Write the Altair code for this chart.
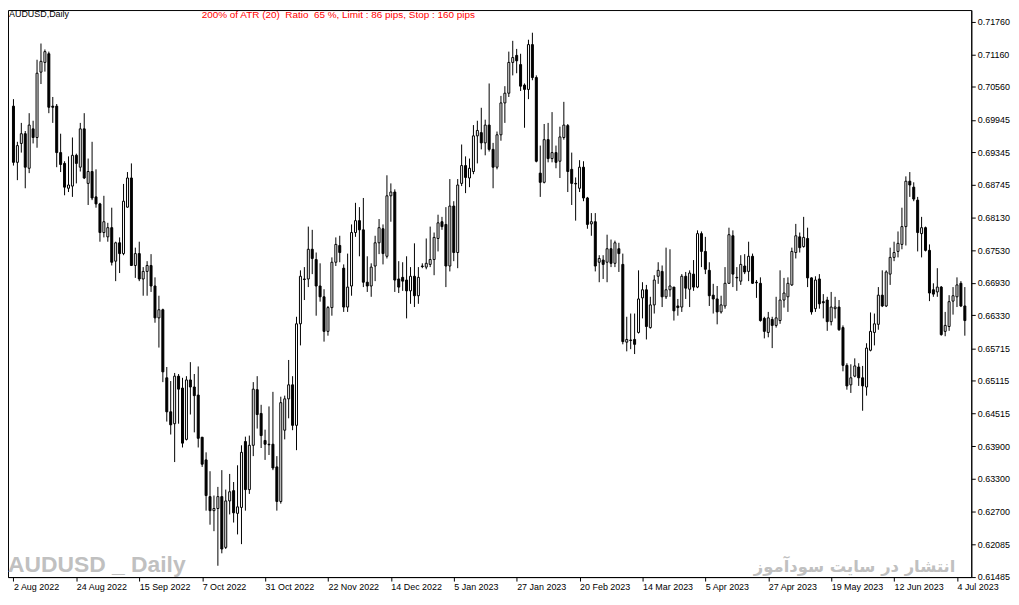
import altair as alt
import pandas as pd

# x-axis tick labels (every 16 trading days)
tick_labels = ["2 Aug 2022", "24 Aug 2022", "15 Sep 2022", "7 Oct 2022", "31 Oct 2022",
               "22 Nov 2022", "14 Dec 2022", "5 Jan 2023", "27 Jan 2023", "20 Feb 2023",
               "14 Mar 2023", "5 Apr 2023", "27 Apr 2023", "19 May 2023", "12 Jun 2023",
               "4 Jul 2023"]

y_ticks = [0.71760, 0.71160, 0.70560, 0.69945, 0.69345, 0.68745, 0.68130, 0.67530, 0.66930,
           0.66330, 0.65715, 0.65115, 0.64515, 0.63900, 0.63300, 0.62700, 0.62085, 0.61485]

open_ = [
    0.7020, 0.6916, 0.6951, 0.6969, 0.6905, 0.6978, 0.6962, 0.7083, 0.7101, 0.7117,
    0.7020, 0.7020, 0.6934, 0.6914, 0.6868, 0.6872, 0.6929, 0.6907, 0.6978, 0.6877,
    0.6899, 0.6852, 0.6839, 0.6786, 0.6778, 0.6795, 0.6733, 0.6767, 0.6747, 0.6833,
    0.6887, 0.6725, 0.6747, 0.6700, 0.6714, 0.6725, 0.6687, 0.6628, 0.6643, 0.6517,
    0.6454, 0.6432, 0.6520, 0.6498, 0.6403, 0.6513, 0.6500, 0.6485, 0.6407, 0.6365,
    0.6297, 0.6271, 0.6275, 0.6297, 0.6203, 0.6289, 0.6308, 0.6266, 0.6277, 0.6399,
    0.6310, 0.6392, 0.6495, 0.6451, 0.6401, 0.6394, 0.6394, 0.6352, 0.6288, 0.6420,
    0.6478, 0.6504, 0.6429, 0.6617, 0.6700, 0.6700, 0.6755, 0.6736, 0.6687, 0.6667,
    0.6603, 0.6647, 0.6731, 0.6762, 0.6720, 0.6648, 0.6687, 0.6786, 0.6808, 0.6791,
    0.6694, 0.6687, 0.6724, 0.6767, 0.6793, 0.6742, 0.6854, 0.6861, 0.6700, 0.6703,
    0.6698, 0.6678, 0.6705, 0.6669, 0.6724, 0.6722, 0.6727, 0.6736, 0.6775, 0.6806,
    0.6801, 0.6724, 0.6835, 0.6749, 0.6877, 0.6910, 0.6887, 0.6899, 0.6965, 0.6971,
    0.6952, 0.6985, 0.6940, 0.6907, 0.6967, 0.7026, 0.7044, 0.7101, 0.7114, 0.7097,
    0.7059, 0.7051, 0.7134, 0.7073, 0.6896, 0.6879, 0.6958, 0.6923, 0.6934, 0.6918,
    0.6962, 0.6984, 0.6903, 0.6877, 0.6868, 0.6907, 0.6850, 0.6802, 0.6806, 0.6731,
    0.6735, 0.6731, 0.6756, 0.6729, 0.6756, 0.6727, 0.6583, 0.6586, 0.6588, 0.6601,
    0.6665, 0.6680, 0.6610, 0.6652, 0.6705, 0.6714, 0.6667, 0.6680, 0.6685, 0.6650,
    0.6648, 0.6705, 0.6681, 0.6709, 0.6685, 0.6784, 0.6751, 0.6716, 0.6670, 0.6663,
    0.6639, 0.6650, 0.6692, 0.6780, 0.6703, 0.6696, 0.6724, 0.6714, 0.6742, 0.6694,
    0.6692, 0.6627, 0.6601, 0.6625, 0.6614, 0.6623, 0.6661, 0.6667, 0.6689, 0.6749,
    0.6778, 0.6760, 0.6775, 0.6702, 0.6645, 0.6700, 0.6658, 0.6661, 0.6621, 0.6645,
    0.6648, 0.6610, 0.6540, 0.6504, 0.6520, 0.6537, 0.6517, 0.6500, 0.6568, 0.6601,
    0.6616, 0.6670, 0.6650, 0.6709, 0.6740, 0.6751, 0.6764, 0.6797, 0.6881, 0.6870,
    0.6846, 0.6784, 0.6795, 0.6753, 0.6680, 0.6676, 0.6685, 0.6603, 0.6612, 0.6659,
    0.6667, 0.6692, 0.6650]

high_ = [
    0.7033, 0.6954, 0.6989, 0.6974, 0.7007, 0.6993, 0.7106, 0.7136, 0.7125, 0.7121,
    0.7037, 0.7024, 0.6969, 0.6918, 0.6927, 0.6962, 0.6932, 0.6989, 0.7007, 0.6923,
    0.6954, 0.6903, 0.6841, 0.6854, 0.6804, 0.6832, 0.6769, 0.6777, 0.6876, 0.6898,
    0.6914, 0.6758, 0.6769, 0.6722, 0.6733, 0.6746, 0.6703, 0.6669, 0.6645, 0.6537,
    0.6511, 0.6526, 0.6524, 0.6517, 0.6520, 0.6546, 0.6524, 0.6538, 0.6407, 0.6379,
    0.6344, 0.6299, 0.6315, 0.6346, 0.6310, 0.6339, 0.6324, 0.6355, 0.6392, 0.6408,
    0.6410, 0.6509, 0.6520, 0.6467, 0.6421, 0.6464, 0.6491, 0.6372, 0.6482, 0.6484,
    0.6550, 0.6520, 0.6630, 0.6716, 0.6722, 0.6797, 0.6791, 0.6749, 0.6729, 0.6681,
    0.6650, 0.6740, 0.6777, 0.6780, 0.6727, 0.6747, 0.6801, 0.6841, 0.6833, 0.6850,
    0.6742, 0.6729, 0.6780, 0.6811, 0.6801, 0.6892, 0.6877, 0.6866, 0.6733, 0.6731,
    0.6742, 0.6722, 0.6766, 0.6722, 0.6729, 0.6775, 0.6797, 0.6786, 0.6819, 0.6815,
    0.6833, 0.6885, 0.6844, 0.6885, 0.6949, 0.6927, 0.6923, 0.6985, 0.6993, 0.7017,
    0.6995, 0.7062, 0.6952, 0.6973, 0.7039, 0.7057, 0.7121, 0.7141, 0.7126, 0.7117,
    0.7062, 0.7143, 0.7156, 0.7077, 0.6947, 0.6987, 0.6989, 0.7009, 0.6947, 0.6982,
    0.7028, 0.6987, 0.6934, 0.6888, 0.6920, 0.6918, 0.6852, 0.6822, 0.6822, 0.6744,
    0.6744, 0.6782, 0.6773, 0.6771, 0.6767, 0.6747, 0.6630, 0.6636, 0.6636, 0.6716,
    0.6694, 0.6689, 0.6667, 0.6707, 0.6731, 0.6725, 0.6758, 0.6755, 0.6685, 0.6663,
    0.6709, 0.6713, 0.6716, 0.6735, 0.6790, 0.6788, 0.6778, 0.6731, 0.6691, 0.6687,
    0.6669, 0.6722, 0.6795, 0.6790, 0.6722, 0.6744, 0.6746, 0.6769, 0.6747, 0.6698,
    0.6703, 0.6630, 0.6639, 0.6630, 0.6667, 0.6716, 0.6702, 0.6703, 0.6758, 0.6802,
    0.6786, 0.6815, 0.6795, 0.6703, 0.6705, 0.6709, 0.6672, 0.6667, 0.6676, 0.6667,
    0.6661, 0.6614, 0.6544, 0.6542, 0.6553, 0.6544, 0.6539, 0.6581, 0.6638, 0.6636,
    0.6685, 0.6716, 0.6716, 0.6758, 0.6769, 0.6788, 0.6832, 0.6890, 0.6898, 0.6879,
    0.6852, 0.6815, 0.6797, 0.6764, 0.6692, 0.6720, 0.6687, 0.6639, 0.6670, 0.6685,
    0.6703, 0.6696, 0.6685]

low_ = [
    0.6910, 0.6883, 0.6934, 0.6868, 0.6896, 0.6951, 0.6943, 0.7061, 0.7084, 0.7007,
    0.6989, 0.6907, 0.6898, 0.6855, 0.6861, 0.6852, 0.6877, 0.6899, 0.6885, 0.6837,
    0.6846, 0.6832, 0.6769, 0.6777, 0.6769, 0.6725, 0.6696, 0.6711, 0.6744, 0.6832,
    0.6724, 0.6702, 0.6696, 0.6669, 0.6669, 0.6676, 0.6619, 0.6573, 0.6509, 0.6436,
    0.6412, 0.6361, 0.6432, 0.6388, 0.6401, 0.6449, 0.6416, 0.6388, 0.6352, 0.6271,
    0.6245, 0.6233, 0.6169, 0.6192, 0.6200, 0.6264, 0.6249, 0.6227, 0.6209, 0.6271,
    0.6302, 0.6372, 0.6423, 0.6387, 0.6365, 0.6374, 0.6346, 0.6271, 0.6284, 0.6403,
    0.6442, 0.6420, 0.6383, 0.6577, 0.6661, 0.6685, 0.6709, 0.6632, 0.6658, 0.6584,
    0.6595, 0.6632, 0.6724, 0.6731, 0.6639, 0.6639, 0.6669, 0.6778, 0.6742, 0.6685,
    0.6676, 0.6667, 0.6696, 0.6746, 0.6727, 0.6738, 0.6806, 0.6676, 0.6674, 0.6678,
    0.6627, 0.6654, 0.6648, 0.6654, 0.6720, 0.6718, 0.6722, 0.6707, 0.6751, 0.6791,
    0.6685, 0.6714, 0.6733, 0.6720, 0.6872, 0.6859, 0.6870, 0.6894, 0.6914, 0.6940,
    0.6929, 0.6936, 0.6868, 0.6903, 0.6956, 0.6989, 0.7037, 0.7077, 0.7081, 0.7048,
    0.6980, 0.7033, 0.7068, 0.6916, 0.6852, 0.6877, 0.6916, 0.6916, 0.6905, 0.6887,
    0.6958, 0.6861, 0.6837, 0.6808, 0.6861, 0.6844, 0.6793, 0.6780, 0.6714, 0.6694,
    0.6700, 0.6694, 0.6722, 0.6722, 0.6713, 0.6579, 0.6566, 0.6570, 0.6561, 0.6599,
    0.6627, 0.6588, 0.6608, 0.6636, 0.6691, 0.6648, 0.6663, 0.6667, 0.6623, 0.6632,
    0.6639, 0.6663, 0.6648, 0.6678, 0.6683, 0.6722, 0.6709, 0.6650, 0.6636, 0.6616,
    0.6636, 0.6645, 0.6691, 0.6685, 0.6678, 0.6689, 0.6709, 0.6696, 0.6691, 0.6665,
    0.6621, 0.6590, 0.6592, 0.6572, 0.6610, 0.6617, 0.6647, 0.6639, 0.6687, 0.6738,
    0.6749, 0.6758, 0.6685, 0.6634, 0.6639, 0.6645, 0.6627, 0.6604, 0.6614, 0.6627,
    0.6604, 0.6529, 0.6495, 0.6489, 0.6518, 0.6502, 0.6456, 0.6484, 0.6566, 0.6577,
    0.6606, 0.6648, 0.6648, 0.6689, 0.6733, 0.6740, 0.6755, 0.6762, 0.6852, 0.6844,
    0.6751, 0.6740, 0.6751, 0.6659, 0.6667, 0.6667, 0.6595, 0.6594, 0.6604, 0.6634,
    0.6648, 0.6648, 0.6595]

close_ = [
    0.6916, 0.6947, 0.6969, 0.6907, 0.6985, 0.6962, 0.7081, 0.7103, 0.7121, 0.7018,
    0.7018, 0.6934, 0.6912, 0.6870, 0.6874, 0.6929, 0.6914, 0.6978, 0.6887, 0.6899,
    0.6850, 0.6839, 0.6786, 0.6806, 0.6795, 0.6731, 0.6767, 0.6747, 0.6844, 0.6887,
    0.6725, 0.6747, 0.6700, 0.6714, 0.6725, 0.6687, 0.6628, 0.6643, 0.6528, 0.6454,
    0.6430, 0.6520, 0.6496, 0.6396, 0.6513, 0.6500, 0.6484, 0.6405, 0.6357, 0.6299,
    0.6271, 0.6275, 0.6297, 0.6200, 0.6289, 0.6306, 0.6267, 0.6278, 0.6379, 0.6310,
    0.6392, 0.6496, 0.6449, 0.6410, 0.6394, 0.6393, 0.6350, 0.6288, 0.6471, 0.6478,
    0.6504, 0.6429, 0.6617, 0.6705, 0.6699, 0.6755, 0.6738, 0.6687, 0.6667, 0.6603,
    0.6647, 0.6731, 0.6764, 0.6749, 0.6648, 0.6685, 0.6786, 0.6808, 0.6791, 0.6694,
    0.6687, 0.6722, 0.6767, 0.6795, 0.6747, 0.6854, 0.6861, 0.6698, 0.6685, 0.6696,
    0.6678, 0.6705, 0.6669, 0.6703, 0.6723, 0.6729, 0.6736, 0.6777, 0.6804, 0.6797,
    0.6724, 0.6835, 0.6749, 0.6874, 0.6910, 0.6888, 0.6905, 0.6965, 0.6975, 0.6952,
    0.6985, 0.6940, 0.6907, 0.6967, 0.7026, 0.7044, 0.7101, 0.7110, 0.7104, 0.7057,
    0.7051, 0.7134, 0.7073, 0.6918, 0.6879, 0.6958, 0.6923, 0.6934, 0.6916, 0.6963,
    0.6985, 0.6899, 0.6877, 0.6876, 0.6907, 0.6850, 0.6801, 0.6806, 0.6724, 0.6738,
    0.6727, 0.6756, 0.6729, 0.6767, 0.6747, 0.6584, 0.6588, 0.6587, 0.6579, 0.6663,
    0.6680, 0.6612, 0.6652, 0.6698, 0.6716, 0.6667, 0.6680, 0.6687, 0.6641, 0.6647,
    0.6705, 0.6683, 0.6711, 0.6685, 0.6784, 0.6751, 0.6718, 0.6669, 0.6663, 0.6639,
    0.6652, 0.6692, 0.6782, 0.6709, 0.6702, 0.6727, 0.6713, 0.6742, 0.6692, 0.6693,
    0.6623, 0.6603, 0.6628, 0.6614, 0.6628, 0.6661, 0.6674, 0.6692, 0.6751, 0.6780,
    0.6758, 0.6777, 0.6702, 0.6639, 0.6698, 0.6654, 0.6656, 0.6621, 0.6648, 0.6648,
    0.6606, 0.6540, 0.6502, 0.6517, 0.6539, 0.6517, 0.6502, 0.6572, 0.6603, 0.6617,
    0.6670, 0.6650, 0.6713, 0.6740, 0.6749, 0.6766, 0.6797, 0.6881, 0.6874, 0.6848,
    0.6786, 0.6795, 0.6753, 0.6674, 0.6672, 0.6685, 0.6597, 0.6614, 0.6658, 0.6669,
    0.6689, 0.6650, 0.6623]

n = len(close_)
df = pd.DataFrame({
    "i": list(range(n)),
    "date": pd.bdate_range("2022-08-02", periods=n).strftime("%Y-%m-%d"),
    "o": open_, "h": high_, "l": low_, "c": close_,
})

FONT = "Liberation Sans"
W, H = 970, 571
X0 = -0.125

label_expr = "[" + ",".join("'%s'" % s for s in tick_labels) + "][round(datum.value / 16)]"

xscale = alt.Scale(domain=[X0, X0 + W / 4.0], nice=False, zero=False)
yscale = alt.Scale(domain=[0.6148, 0.7198], nice=False, zero=False)

x_axis = alt.Axis(values=list(range(0, 16 * len(tick_labels), 16)), labelExpr=label_expr,
                  labelAlign="left", labelFlush=False, labelOverlap=False,
                  labelPadding=2, tickSize=4, grid=False,
                  domainColor="black", tickColor="black", labelColor="black")
y_axis = alt.Axis(orient="right", values=y_ticks, format=".5f", labelFlush=False,
                  labelOverlap=False, labelPadding=2, tickSize=4, grid=False,
                  domainColor="black", tickColor="black", labelColor="black")

base = alt.Chart(df)

wicks = base.mark_rule(color="black", strokeWidth=1).encode(
    x=alt.X("i:Q", scale=xscale, axis=x_axis, title=None),
    y=alt.Y("l:Q", scale=yscale, axis=y_axis, title=None),
    y2="h:Q",
)

bodies = base.mark_bar(size=2, stroke="black", strokeWidth=1).encode(
    x=alt.X("i:Q", scale=xscale, axis=x_axis, title=None),
    y=alt.Y("o:Q", scale=yscale, axis=y_axis, title=None),
    y2="c:Q",
    fill=alt.condition("datum.c > datum.o", alt.value("white"), alt.value("black")),
)

def label(txt, x, y, size, color, font=FONT, weight="normal", align="left", baseline="middle"):
    return alt.Chart(pd.DataFrame({"t": [txt]})).mark_text(
        align=align, baseline=baseline, fontSize=size, font=font, fontWeight=weight, color=color
    ).encode(x=alt.value(x), y=alt.value(y), text="t:N")

NB = "\u00a0"
title_txt = "200% of ATR (20)" + NB * 2 + "Ratio" + NB * 2 + "65 %, Limit : 86 pips, Stop : 160 pips"

t1 = label("AUDUSD,Daily", 1, 4, 9, "black")
t2 = label(title_txt, 195, 5, 10, "#ff0000")
t3 = label("AUDUSD _ Daily", 0, 566, 23, "#c0c0c0", weight="bold", baseline="alphabetic")
t4 = label("انتشار در سایت سودآموز", 954, 566, 16.5, "#c0c0c0", font="DejaVu Sans",
           weight="bold", align="right", baseline="alphabetic")

chart = alt.layer(wicks, bodies, t1, t2, t3, t4).properties(
    width=W, height=H,
    autosize=alt.AutoSizeParams(type="none"),
    padding={"left": 0, "top": 0, "right": 40, "bottom": 17},
    background="white",
).configure_view(stroke="black", strokeWidth=1).configure_axis(
    labelFont=FONT, labelFontSize=9, labelOverlap=False
)

chart.save("out.html", embed_options={"renderer": "svg", "actions": False})
